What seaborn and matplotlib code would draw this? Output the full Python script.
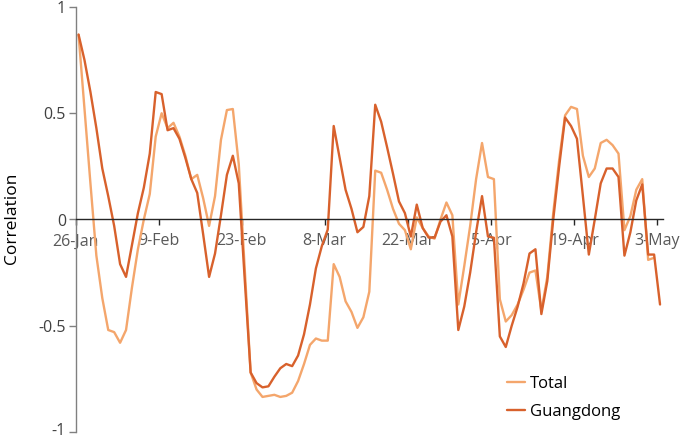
import matplotlib
matplotlib.use("Agg")
import matplotlib.pyplot as plt
import matplotlib.transforms as mtransforms
import seaborn as sns
import pandas as pd
import numpy as np
from matplotlib.lines import Line2D

# ---- data (daily correlation, 26-Jan .. 3-May) ----
tick_labels = ["26-Jan", "9-Feb", "23-Feb", "8-Mar", "22-Mar", "5-Apr", "19-Apr", "3-May"]
series_names = ["Total", "Guangdong"]

total = [0.87, 0.52, 0.17, -0.17, -0.37, -0.52, -0.53, -0.58, -0.52, -0.32,
         -0.14, 0.00, 0.12, 0.39, 0.50, 0.43, 0.455, 0.39, 0.30, 0.19,
         0.21, 0.10, -0.03, 0.11, 0.375, 0.515, 0.52, 0.26, -0.23, -0.72,
         -0.80, -0.835, -0.83, -0.825, -0.835, -0.83, -0.815, -0.76, -0.68, -0.59,
         -0.56, -0.57, -0.57, -0.21, -0.27, -0.385, -0.435, -0.51, -0.46, -0.34,
         0.23, 0.22, 0.14, 0.05, -0.02, -0.05, -0.14, 0.01, -0.04, -0.08,
         -0.09, 0.00, 0.08, 0.02, -0.40, -0.22, -0.03, 0.19, 0.36, 0.20,
         0.19, -0.375, -0.48, -0.45, -0.40, -0.33, -0.25, -0.24, -0.43, -0.27,
         0.03, 0.28, 0.49, 0.53, 0.52, 0.30, 0.20, 0.24, 0.36, 0.375,
         0.35, 0.31, -0.05, 0.016, 0.14, 0.19, -0.19, -0.18]

guangdong = [0.87, 0.75, 0.60, 0.43, 0.24, 0.11, -0.03, -0.21, -0.27, -0.12,
             0.03, 0.15, 0.31, 0.60, 0.59, 0.42, 0.43, 0.38, 0.29, 0.19,
             0.125, -0.07, -0.27, -0.16, 0.02, 0.21, 0.30, 0.17, -0.28, -0.72,
             -0.77, -0.79, -0.785, -0.74, -0.70, -0.68, -0.69, -0.64, -0.54, -0.40,
             -0.23, -0.125, -0.047, 0.44, 0.29, 0.14, 0.05, -0.06, -0.035, 0.11,
             0.54, 0.46, 0.34, 0.215, 0.085, 0.03, -0.08, 0.07, -0.04, -0.085,
             -0.085, -0.01, 0.02, -0.08, -0.52, -0.41, -0.25, -0.06, 0.11, -0.08,
             -0.086, -0.55, -0.60, -0.50, -0.41, -0.30, -0.16, -0.14, -0.445, -0.29,
             0.00, 0.25, 0.48, 0.44, 0.38, 0.11, -0.165, 0.00, 0.17, 0.24,
             0.24, 0.20, -0.17, -0.06, 0.09, 0.165, -0.165, -0.165, -0.40]

colors = {"Total": "#F4A66C", "Guangdong": "#D8612C"}

# long-form table (points centred in their day slot)
df = pd.concat([
    pd.DataFrame({"day": np.arange(len(total)) + 0.5, "corr": total, "series": "Total"}),
    pd.DataFrame({"day": np.arange(len(guangdong)) + 0.5, "corr": guangdong, "series": "Guangdong"}),
], ignore_index=True)

sns.set_theme(style="white")
plt.rcParams["font.family"] = ["Open Sans", "DejaVu Sans"]

fig = plt.figure(figsize=(6.85, 4.4), dpi=100)
ax = fig.add_axes([75.6 / 685, 1 - 432 / 440, (663 - 75.6) / 685, (432 - 7) / 440])

sns.lineplot(data=df, x="day", y="corr", hue="series", hue_order=series_names,
             palette=colors, linewidth=1.7, ax=ax, legend=False, sort=False)

ax.set_xlim(0, 99)
ax.set_ylim(-1, 1)
ax.set_xticks(np.arange(len(tick_labels)) * 14)
ax.set_xticklabels(tick_labels)
ax.set_yticks([-1, -0.5, 0, 0.5, 1])
ax.set_yticklabels(["-1", "-0.5", "0", "0.5", "1"])

for s in ["top", "right"]:
    ax.spines[s].set_visible(False)
ax.spines["bottom"].set_position(("data", 0))
ax.spines["bottom"].set_color("#262626")
ax.spines["bottom"].set_linewidth(1.0)
ax.spines["left"].set_color("#808080")
ax.spines["left"].set_linewidth(1.0)

ax.tick_params(axis="x", direction="out", length=4, width=1, color="#262626",
               labelsize=11.5, labelcolor="#595959", pad=6, bottom=True)
ax.tick_params(axis="y", direction="out", length=5, width=1, color="#808080",
               labelsize=11.5, labelcolor="#404040", pad=2, left=True)

# nudge the bottom "-1" label up a touch so it stays inside the canvas
lab = ax.get_yticklabels()[0]
lab.set_transform(lab.get_transform() + mtransforms.ScaledTranslation(0, 3 / 100, fig.dpi_scale_trans))

ax.set_xlabel("")
ax.set_ylabel("")
fig.text(12 / 685, 1 - 218 / 440, "Correlation", rotation=90, ha="center", va="center",
         fontsize=12.5, color="black")

handles = [Line2D([], [], color=colors[n], linewidth=1.7) for n in series_names]
leg = fig.legend(handles, series_names, loc="center left",
                 bbox_to_anchor=(507 / 685, 1 - 398 / 440), frameon=False,
                 fontsize=12, handlelength=1.1, handletextpad=0.3,
                 labelspacing=0.7, borderpad=0, borderaxespad=0)
for t in leg.get_texts():
    t.set_color("black")

fig.savefig("out.png", dpi=100)
